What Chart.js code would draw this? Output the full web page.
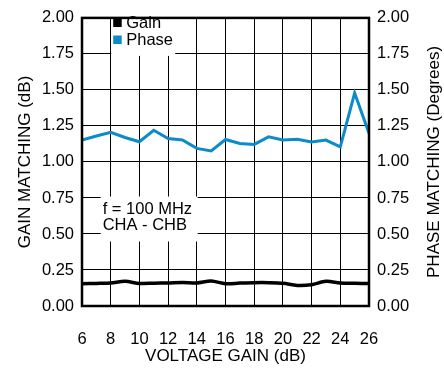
<!DOCTYPE html>
<html>
<head>
<meta charset="utf-8">
<script src="https://cdn.jsdelivr.net/npm/chart.js@4/dist/chart.umd.min.js"></script>
<style>
  html, body { margin: 0; padding: 0; background: #fff; }
  #wrap { width: 444px; height: 370px; }
</style>
</head>
<body>
<div id="wrap"><canvas id="chart" width="444" height="370"></canvas></div>
<script>
const voltageGain = [6, 7, 8, 9, 10, 11, 12, 13, 14, 15, 16, 17, 18, 19, 20, 21, 22, 23, 24, 25, 26];
const gainMatching = [0.155, 0.157, 0.16, 0.171, 0.157, 0.158, 0.16, 0.164, 0.16, 0.173, 0.155, 0.159, 0.162, 0.162, 0.158, 0.143, 0.148, 0.171, 0.16, 0.158, 0.156];
const phaseMatching = [1.152, 1.18, 1.206, 1.17, 1.14, 1.22, 1.163, 1.152, 1.094, 1.076, 1.156, 1.128, 1.122, 1.174, 1.152, 1.158, 1.138, 1.152, 1.104, 1.478, 1.2];
const yTicks = [0, 0.25, 0.5, 0.75, 1.0, 1.25, 1.5, 1.75, 2.0];
const noteLines = ['f = 100 MHz', 'CHA - CHB'];
const rightTitle = 'PHASE MATCHING (Degrees)';

const FONT = 'Liberation Sans, Arial, sans-serif';
const PHASE_BLUE = '#0b8bc8';

function toPoints(xs, ys) {
    return xs.map((x, i) => ({ x: x, y: ys[i] }));
}

// white boxes with legend and note inside the plot, frame, right title (reads bottom-up)
const boxesPlugin = {
    id: 'boxes',
    beforeDatasetsDraw(chart) {
        const ctx = chart.ctx;
        const xs = chart.scales.x, ys = chart.scales.y;
        ctx.save();
        ctx.fillStyle = '#fff';
        ctx.fillRect(xs.getPixelForValue(8) + 0.5, ys.getPixelForValue(2) + 1, 64, 37);
        ctx.fillRect(xs.getPixelForValue(7.3), ys.getPixelForValue(0.76), 97, 45);

        ctx.font = '16.5px ' + FONT;
        ctx.textBaseline = 'alphabetic';
        ctx.textAlign = 'left';
        const lx = xs.getPixelForValue(8) + 2.5;
        chart.data.datasets.forEach((ds, i) => {
            const by = 18.5 + i * 17;
            ctx.fillStyle = ds.borderColor;
            ctx.fillRect(lx, by, 8.5, 8.5);
            ctx.fillStyle = '#000';
            ctx.fillText(ds.label, lx + 13, by + 9);
        });

        const nx = xs.getPixelForValue(7.3) + 2;
        noteLines.forEach((t, i) => {
            ctx.fillText(t, nx, ys.getPixelForValue(0.76) + 17 + i * 16.5);
        });
        ctx.restore();
    },
    afterDatasetsDraw(chart) {
        const a = chart.chartArea;
        const ctx = chart.ctx;
        ctx.save();
        ctx.strokeStyle = '#000';
        ctx.lineWidth = 2.5;
        ctx.strokeRect(a.left, a.top, a.right - a.left, a.bottom - a.top);

        ctx.translate(434, (a.top + a.bottom) / 2);
        ctx.rotate(-Math.PI / 2);
        ctx.font = '17px ' + FONT;
        ctx.fillStyle = '#000';
        ctx.textAlign = 'center';
        ctx.textBaseline = 'middle';
        ctx.fillText(rightTitle, 0, 0);
        ctx.restore();
    }
};

new Chart(document.getElementById('chart'), {
    type: 'line',
    data: {
        datasets: [
            { label: 'Gain', data: toPoints(voltageGain, gainMatching), borderColor: '#000', backgroundColor: '#000', borderWidth: 3.5, pointRadius: 0, tension: 0.3, yAxisID: 'y' },
            { label: 'Phase', data: toPoints(voltageGain, phaseMatching), borderColor: PHASE_BLUE, backgroundColor: PHASE_BLUE, borderWidth: 3, pointRadius: 0, tension: 0, yAxisID: 'y2' }
        ]
    },
    options: {
        responsive: false,
        animation: false,
        layout: { padding: { top: 13, left: 0, right: 0, bottom: 0 } },
        plugins: { legend: { display: false }, tooltip: { enabled: false } },
        scales: {
            x: {
                type: 'linear', min: 6, max: 26,
                grid: { color: '#000', lineWidth: 1, drawTicks: false },
                border: { display: false },
                ticks: { stepSize: 2, color: '#000', padding: 24, font: { family: FONT, size: 16.5 } },
                title: { display: true, text: 'VOLTAGE GAIN (dB)', color: '#000', padding: { top: 0, bottom: 3.5 }, font: { family: FONT, size: 17 } },
                afterFit: s => { s.height = 64; }
            },
            y: {
                position: 'left', min: 0, max: 2,
                afterBuildTicks: s => { s.ticks = yTicks.map(v => ({ value: v })); },
                grid: { color: '#000', lineWidth: 1, drawTicks: false },
                border: { display: false },
                ticks: { color: '#000', padding: 8, font: { family: FONT, size: 16.5 }, callback: v => Number(v).toFixed(2) },
                title: { display: true, text: 'GAIN MATCHING (dB)', color: '#000', padding: { top: 14.8, bottom: 0 }, font: { family: FONT, size: 17 } },
                afterFit: s => { s.width = 82; }
            },
            y2: {
                position: 'right', min: 0, max: 2,
                afterBuildTicks: s => { s.ticks = yTicks.map(v => ({ value: v })); },
                grid: { display: false, drawTicks: false },
                border: { display: false },
                ticks: { color: '#000', padding: 8, font: { family: FONT, size: 16.5 }, callback: v => Number(v).toFixed(2) },
                title: { display: false },
                afterFit: s => { s.width = 75; }
            }
        }
    },
    plugins: [boxesPlugin]
});
</script>
</body>
</html>
